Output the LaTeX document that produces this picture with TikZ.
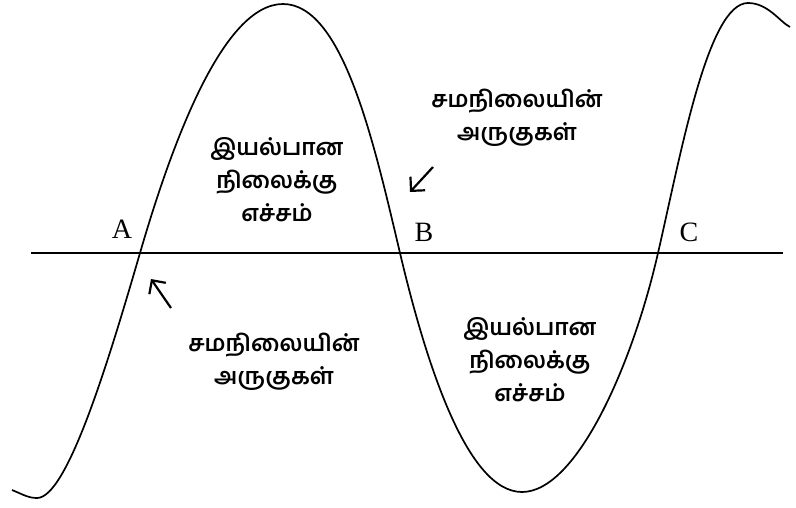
\documentclass[tikz,border=0pt]{standalone}
\usepackage{fontspec}
\setmainfont{Liberation Serif}
\newfontfamily\tamil[Script=Tamil]{Hind Madurai}
\usetikzlibrary{arrows.meta}
\tikzset{
  curve/.style={line width=1.7pt},
  axis/.style={line width=1.7pt},
  ptr/.style={line width=2.2pt,-{Straight Barb[length=10pt,width=20pt,line width=2.2pt]}},
  tlabel/.style={font=\tamil\bfseries\fontsize{23}{33}\selectfont,align=center,inner sep=0pt},
  letter/.style={font=\fontsize{28}{30}\selectfont,inner sep=0pt}
}
\begin{document}
\begin{tikzpicture}[x=1pt,y=-1pt]
\useasboundingbox (0,0) rectangle (796,507);
\coordinate (ax1) at (31,253);
\coordinate (ax2) at (783,253);
\draw[axis] (ax1) -- (ax2);
\draw[curve] (12,490) .. controls (22,494) and (28,498) .. (37,498)
  .. controls (67,498) and (108,363) .. (140,253)
  .. controls (172,143) and (223,4) .. (283,4)
  .. controls (343,4) and (374,143) .. (400,253)
  .. controls (426,363) and (467,492) .. (522,492)
  .. controls (577,492) and (633,363) .. (658,253)
  .. controls (681,153) and (708,3) .. (748,3)
  .. controls (768,3) and (780,22) .. (790,27);
\node[letter] (A) at (122,229) {A};
\node[letter] (B) at (424,232) {B};
\node[letter] (C) at (689,232) {C};
\node[tlabel] (t1) at (277,180) {இயல்பான\\நிலைக்கு\\எச்சம்};
\node[tlabel] (t2) at (517,118) {சமநிலையின்\\அருகுகள்};
\node[tlabel] (t3) at (274,362) {சமநிலையின்\\அருகுகள்};
\node[tlabel] (t4) at (530,360) {இயல்பான\\நிலைக்கு\\எச்சம்};
\coordinate (p1s) at (433,167);
\coordinate (p1e) at (410,192);
\coordinate (p2s) at (171,308);
\coordinate (p2e) at (151,279);
\draw[ptr] (p1s) -- (p1e);
\draw[ptr] (p2s) -- (p2e);
\end{tikzpicture}
\end{document}
